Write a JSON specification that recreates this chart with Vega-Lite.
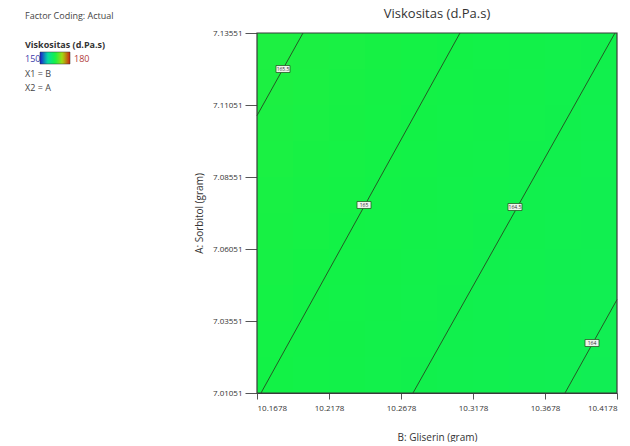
{
  "$schema": "https://vega.github.io/schema/vega-lite/v6.json",
  "padding": {"left": 0, "top": 8, "right": 0, "bottom": 0},
  "background": "white",
  "config": {
    "font": "Open Sans",
    "view": {"stroke": null},
    "concat": {"spacing": 24}
  },
  "datasets": {
    "cells": [
      {"b":10.1803,"a":7.01676,"v":164.99},{"b":10.2053,"a":7.01676,"v":164.87},{"b":10.2303,"a":7.01676,"v":164.75},{"b":10.2553,"a":7.01676,"v":164.64},{"b":10.2803,"a":7.01676,"v":164.52},{"b":10.3053,"a":7.01676,"v":164.40},{"b":10.3303,"a":7.01676,"v":164.29},{"b":10.3553,"a":7.01676,"v":164.17},{"b":10.3803,"a":7.01676,"v":164.05},{"b":10.4053,"a":7.01676,"v":163.94},
      {"b":10.1803,"a":7.02926,"v":165.05},{"b":10.2053,"a":7.02926,"v":164.94},{"b":10.2303,"a":7.02926,"v":164.82},{"b":10.2553,"a":7.02926,"v":164.70},{"b":10.2803,"a":7.02926,"v":164.58},{"b":10.3053,"a":7.02926,"v":164.47},{"b":10.3303,"a":7.02926,"v":164.35},{"b":10.3553,"a":7.02926,"v":164.23},{"b":10.3803,"a":7.02926,"v":164.12},{"b":10.4053,"a":7.02926,"v":164.00},
      {"b":10.1803,"a":7.04176,"v":165.12},{"b":10.2053,"a":7.04176,"v":165.00},{"b":10.2303,"a":7.04176,"v":164.88},{"b":10.2553,"a":7.04176,"v":164.77},{"b":10.2803,"a":7.04176,"v":164.65},{"b":10.3053,"a":7.04176,"v":164.53},{"b":10.3303,"a":7.04176,"v":164.42},{"b":10.3553,"a":7.04176,"v":164.30},{"b":10.3803,"a":7.04176,"v":164.18},{"b":10.4053,"a":7.04176,"v":164.07},
      {"b":10.1803,"a":7.05426,"v":165.18},{"b":10.2053,"a":7.05426,"v":165.07},{"b":10.2303,"a":7.05426,"v":164.95},{"b":10.2553,"a":7.05426,"v":164.83},{"b":10.2803,"a":7.05426,"v":164.71},{"b":10.3053,"a":7.05426,"v":164.60},{"b":10.3303,"a":7.05426,"v":164.48},{"b":10.3553,"a":7.05426,"v":164.36},{"b":10.3803,"a":7.05426,"v":164.25},{"b":10.4053,"a":7.05426,"v":164.13},
      {"b":10.1803,"a":7.06676,"v":165.25},{"b":10.2053,"a":7.06676,"v":165.13},{"b":10.2303,"a":7.06676,"v":165.01},{"b":10.2553,"a":7.06676,"v":164.90},{"b":10.2803,"a":7.06676,"v":164.78},{"b":10.3053,"a":7.06676,"v":164.66},{"b":10.3303,"a":7.06676,"v":164.55},{"b":10.3553,"a":7.06676,"v":164.43},{"b":10.3803,"a":7.06676,"v":164.31},{"b":10.4053,"a":7.06676,"v":164.20},
      {"b":10.1803,"a":7.07926,"v":165.31},{"b":10.2053,"a":7.07926,"v":165.20},{"b":10.2303,"a":7.07926,"v":165.08},{"b":10.2553,"a":7.07926,"v":164.96},{"b":10.2803,"a":7.07926,"v":164.85},{"b":10.3053,"a":7.07926,"v":164.73},{"b":10.3303,"a":7.07926,"v":164.61},{"b":10.3553,"a":7.07926,"v":164.50},{"b":10.3803,"a":7.07926,"v":164.38},{"b":10.4053,"a":7.07926,"v":164.26},
      {"b":10.1803,"a":7.09176,"v":165.38},{"b":10.2053,"a":7.09176,"v":165.26},{"b":10.2303,"a":7.09176,"v":165.14},{"b":10.2553,"a":7.09176,"v":165.03},{"b":10.2803,"a":7.09176,"v":164.91},{"b":10.3053,"a":7.09176,"v":164.79},{"b":10.3303,"a":7.09176,"v":164.68},{"b":10.3553,"a":7.09176,"v":164.56},{"b":10.3803,"a":7.09176,"v":164.44},{"b":10.4053,"a":7.09176,"v":164.33},
      {"b":10.1803,"a":7.10426,"v":165.44},{"b":10.2053,"a":7.10426,"v":165.33},{"b":10.2303,"a":7.10426,"v":165.21},{"b":10.2553,"a":7.10426,"v":165.09},{"b":10.2803,"a":7.10426,"v":164.98},{"b":10.3053,"a":7.10426,"v":164.86},{"b":10.3303,"a":7.10426,"v":164.74},{"b":10.3553,"a":7.10426,"v":164.63},{"b":10.3803,"a":7.10426,"v":164.51},{"b":10.4053,"a":7.10426,"v":164.39},
      {"b":10.1803,"a":7.11676,"v":165.51},{"b":10.2053,"a":7.11676,"v":165.39},{"b":10.2303,"a":7.11676,"v":165.27},{"b":10.2553,"a":7.11676,"v":165.16},{"b":10.2803,"a":7.11676,"v":165.04},{"b":10.3053,"a":7.11676,"v":164.92},{"b":10.3303,"a":7.11676,"v":164.81},{"b":10.3553,"a":7.11676,"v":164.69},{"b":10.3803,"a":7.11676,"v":164.57},{"b":10.4053,"a":7.11676,"v":164.46},
      {"b":10.1803,"a":7.12926,"v":165.57},{"b":10.2053,"a":7.12926,"v":165.46},{"b":10.2303,"a":7.12926,"v":165.34},{"b":10.2553,"a":7.12926,"v":165.22},{"b":10.2803,"a":7.12926,"v":165.11},{"b":10.3053,"a":7.12926,"v":164.99},{"b":10.3303,"a":7.12926,"v":164.87},{"b":10.3553,"a":7.12926,"v":164.76},{"b":10.3803,"a":7.12926,"v":164.64},{"b":10.4053,"a":7.12926,"v":164.52}
    ],
    "contours": [
      {"level":"165.5","b":10.1678,"a":7.10683},{"level":"165.5","b":10.19974,"a":7.13551},
      {"level":"165","b":10.17058,"a":7.01051},{"level":"165","b":10.30877,"a":7.13551},
      {"level":"164.5","b":10.27613,"a":7.01051},{"level":"164.5","b":10.41641,"a":7.13551},
      {"level":"164","b":10.38169,"a":7.01051},{"level":"164","b":10.4178,"a":7.04294}
    ],
    "labels": [
      {"level":"165.5","b":10.18586,"a":7.12301},
      {"level":"165","b":10.24211,"a":7.07579},
      {"level":"164.5","b":10.34696,"a":7.07509},
      {"level":"164","b":10.40044,"a":7.02787}
    ],
    "notes": [
      {"t":"Factor Coding: Actual","row":0,"col":25,"style":"plain"},
      {"t":"Viskositas (d.Pa.s)","row":2,"col":25,"style":"bold"},
      {"t":"150","row":3,"col":25,"style":"low"},
      {"t":"180","row":3,"col":74,"style":"high"},
      {"t":"X1 = B","row":4,"col":25,"style":"plain"},
      {"t":"X2 = A","row":5,"col":25,"style":"plain"}
    ]
  },
  "hconcat": [
    {
      "width": 170,
      "height": 374,
      "data": {"name": "notes"},
      "layer": [
        {
          "transform": [{"filter": "datum.style !== 'bold'"}],
          "mark": {"type": "text", "align": "left", "baseline": "middle", "fontSize": 9},
          "encoding": {
            "x": {"field": "col", "type": "quantitative", "scale": {"domain": [0, 170]}, "axis": null},
            "y": {"field": "row", "type": "quantitative", "scale": {"domain": [1.18, 27.18], "reverse": true}, "axis": null},
            "text": {"field": "t"},
            "color": {
              "condition": [
                {"test": "datum.style === 'low'", "value": "#3b3ba8"},
                {"test": "datum.style === 'high'", "value": "#b03a3a"}
              ],
              "value": "#444444"
            }
          }
        },
        {
          "transform": [{"filter": "datum.style === 'bold'"}],
          "mark": {"type": "text", "align": "left", "baseline": "middle", "fontSize": 9, "fontWeight": "bold", "color": "#333333"},
          "encoding": {
            "x": {"field": "col", "type": "quantitative", "scale": {"domain": [0, 170]}, "axis": null},
            "y": {"field": "row", "type": "quantitative", "scale": {"domain": [1.18, 27.18], "reverse": true}, "axis": null},
            "text": {"field": "t"}
          }
        }
      ]
    },
    {
      "width": 360,
      "height": 360,
      "title": {"text": "Viskositas (d.Pa.s)", "fontSize": 13, "fontWeight": "normal", "color": "#333333", "offset": 8},
      "layer": [
        {
          "data": {"name": "cells"},
          "mark": {"type": "rect", "strokeWidth": 0},
          "encoding": {
            "x": {"field": "b", "type": "ordinal", "scale": {"paddingInner": 0, "paddingOuter": 0}, "axis": null},
            "y": {"field": "a", "type": "ordinal", "sort": "descending", "scale": {"paddingInner": 0, "paddingOuter": 0}, "axis": null},
            "color": {
              "field": "v", "type": "quantitative",
              "scale": {"domain": [150, 157.5, 165, 172.5, 180], "range": ["#1a1ad0", "#08d8a8", "#12f246", "#a8d810", "#d02010"], "interpolate": "rgb"},
              "legend": {"orient": "none", "legendX": 40, "legendY": 19, "direction": "horizontal", "gradientLength": 30, "gradientThickness": 12, "labelOpacity": 0, "labelExpr": "''", "title": null, "gradientStrokeColor": "#333333", "gradientStrokeWidth": 0.5}
            }
          }
        },
        {
          "layer": [
            {
              "data": {"name": "contours"},
              "mark": {"type": "line", "color": "#245a24", "strokeWidth": 1},
              "encoding": {
                "x": {"field": "b", "type": "quantitative", "scale": {"domain": [10.1678, 10.4178], "nice": false, "zero": false},
                  "axis": {"values": [10.1678, 10.2178, 10.2678, 10.3178, 10.3678, 10.4178], "format": ".4f", "title": "B: Gliserin (gram)", "grid": false, "labelFontSize": 8, "labelColor": "#333333", "titleFontSize": 10, "titleFontWeight": "normal", "titleColor": "#333333", "tickColor": "#555555", "domainColor": "#3a3a3a", "tickSize": 6, "labelPadding": 5, "titlePadding": 20}},
                "y": {"field": "a", "type": "quantitative", "scale": {"domain": [7.01051, 7.13551], "nice": false, "zero": false},
                  "axis": {"values": [7.01051, 7.03551, 7.06051, 7.08551, 7.11051, 7.13551], "format": ".5f", "title": "A: Sorbitol (gram)", "grid": false, "labelFontSize": 8, "labelColor": "#333333", "titleFontSize": 10, "titleFontWeight": "normal", "titleColor": "#333333", "tickColor": "#555555", "domainColor": "#3a3a3a", "tickSize": 12, "labelPadding": 3, "titlePadding": 8}},
                "detail": {"field": "level"}
              }
            },
            {
              "data": {"name": "labels"},
              "mark": {"type": "point", "shape": "M-1,-0.5L1,-0.5L1,0.5L-1,0.5Z", "size": 196, "filled": true, "fill": "#eef4ee", "stroke": "#245a24", "strokeWidth": 0.8, "opacity": 1},
              "encoding": {
                "x": {"field": "b", "type": "quantitative"},
                "y": {"field": "a", "type": "quantitative"}
              }
            },
            {
              "data": {"name": "labels"},
              "mark": {"type": "text", "fontSize": 5, "color": "#333333", "baseline": "middle"},
              "encoding": {
                "x": {"field": "b", "type": "quantitative"},
                "y": {"field": "a", "type": "quantitative"},
                "text": {"field": "level"}
              }
            },
            {
              "data": {"values": [{}]},
              "mark": {"type": "rect", "fill": null, "stroke": "#3a3a3a", "strokeWidth": 1.2},
              "encoding": {
                "x": {"datum": 10.1678, "type": "quantitative"},
                "x2": {"datum": 10.4178},
                "y": {"datum": 7.01051, "type": "quantitative"},
                "y2": {"datum": 7.13551}
              }
            }
          ]
        }
      ],
      "resolve": {"scale": {"x": "independent", "y": "independent"}}
    }
  ]
}
